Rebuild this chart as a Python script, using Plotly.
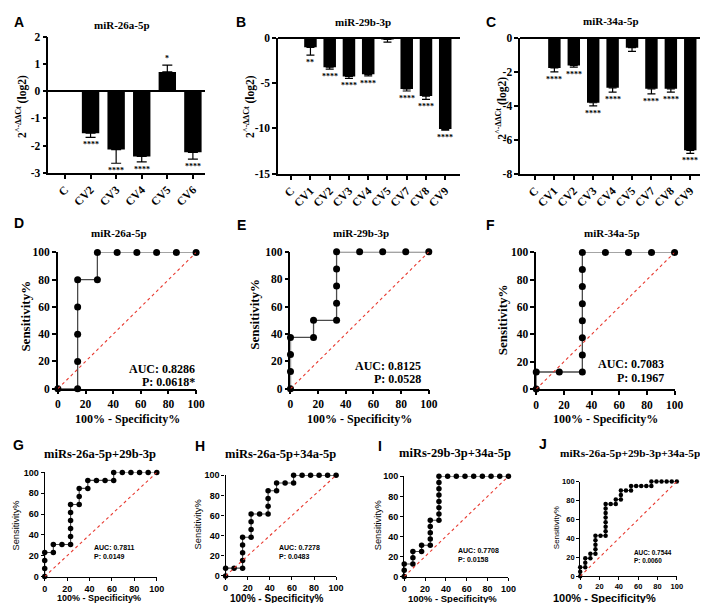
import plotly.graph_objects as go

# ---------------- data ----------------
cats_a = ["C", "CV2", "CV3", "CV4", "CV5", "CV6"]
vals_a = [0, -1.55, -2.15, -2.40, 0.70, -2.25]
errs_a = [0, 0.15, 0.50, 0.20, 0.25, 0.25]
sig_a = ["", "****", "****", "****", "*", "****"]

cats_bc = ["C", "CV1", "CV2", "CV3", "CV4", "CV5", "CV7", "CV8", "CV9"]
vals_b = [0, -1.08, -3.27, -4.28, -4.05, -0.22, -5.67, -6.45, -10.07]
errs_b = [0, 0.85, 0.22, 0.22, 0.18, 0.28, 0.22, 0.35, 0.13]
sig_b = ["", "**", "****", "****", "****", "", "****", "****", "****"]

vals_c = [0, -1.77, -1.63, -3.82, -2.94, -0.58, -3.00, -3.00, -6.62]
errs_c = [0, 0.23, 0.10, 0.18, 0.26, 0.22, 0.30, 0.20, 0.18]
sig_c = ["", "****", "****", "****", "****", "", "****", "****", "****"]

ytick_a = [2, 1, 0, -1, -2, -3]
ytick_b = [0, -5, -10, -15]
ytick_c = [0, -2, -4, -6, -8]
roc_ticks = [0, 20, 40, 60, 80, 100]
diag = [0, 100]

roc_d_x = [0, 14.29, 14.29, 14.29, 14.29, 14.29, 28.57, 28.57, 42.86, 57.14, 71.43, 85.71, 100]
roc_d_y = [0, 0, 20, 40, 60, 80, 80, 100, 100, 100, 100, 100, 100]

roc_e_x = [0, 0, 0, 0, 16.67, 16.67, 33.33, 33.33, 33.33, 33.33, 33.33, 50, 66.67, 83.33, 100]
roc_e_y = [0, 12.5, 25, 37.5, 37.5, 50, 50, 62.5, 75, 87.5, 100, 100, 100, 100, 100]

roc_f_x = [0, 0, 16.67, 33.33, 33.33, 33.33, 33.33, 33.33, 33.33, 33.33, 33.33, 50, 66.67, 83.33, 100]
roc_f_y = [0, 12.5, 12.5, 12.5, 25, 37.5, 50, 62.5, 75, 87.5, 100, 100, 100, 100, 100]

roc_g_x = [0, 0, 0, 0, 7.69, 7.69, 15.38, 23.08, 23.08, 23.08, 23.08, 23.08, 23.08, 30.77, 30.77,
           30.77, 38.46, 38.46, 46.15, 53.85, 61.54, 61.54, 69.23, 76.92, 84.62, 92.31, 100]
roc_g_y = [0, 7.69, 15.38, 23.08, 23.08, 30.77, 30.77, 30.77, 38.46, 46.15, 53.85, 61.54, 69.23, 69.23,
           76.92, 84.62, 84.62, 92.31, 92.31, 92.31, 92.31, 100, 100, 100, 100, 100, 100]

roc_h_x = [0, 0, 7.69, 15.38, 15.38, 15.38, 15.38, 15.38, 23.08, 23.08, 23.08, 23.08, 30.77, 38.46,
           38.46, 38.46, 38.46, 46.15, 46.15, 53.85, 61.54, 61.54, 69.23, 76.92, 84.62, 92.31, 100]
roc_h_y = [0, 7.69, 7.69, 7.69, 15.38, 23.08, 30.77, 38.46, 38.46, 46.15, 53.85, 61.54, 61.54, 61.54,
           69.23, 76.92, 84.62, 84.62, 92.31, 92.31, 92.31, 100, 100, 100, 100, 100, 100]

roc_i_x = [0, 0, 0, 8.33, 8.33, 8.33, 16.67, 16.67, 25, 25, 25, 25, 25, 33.33, 33.33, 33.33, 33.33,
           33.33, 33.33, 33.33, 33.33, 41.67, 50, 58.33, 66.67, 75, 83.33, 91.67, 100]
roc_i_y = [0, 6.25, 12.5, 12.5, 18.75, 25, 25, 31.25, 31.25, 37.5, 43.75, 50, 56.25, 56.25, 62.5,
           68.75, 75, 81.25, 87.5, 93.75, 100, 100, 100, 100, 100, 100, 100, 100, 100]

roc_j_x = [0, 0, 0, 5.26, 5.26, 5.26, 10.53, 10.53, 15.79, 15.79, 15.79, 15.79, 15.79, 21.05, 26.32,
           26.32, 26.32, 26.32, 26.32, 26.32, 26.32, 26.32, 31.58, 36.84, 36.84, 42.11, 42.11, 42.11,
           47.37, 52.63, 52.63, 57.89, 63.16, 68.42, 73.68, 73.68, 78.95, 84.21, 89.47, 94.74, 100]
roc_j_y = [0, 4.76, 9.52, 9.52, 14.29, 19.05, 19.05, 23.81, 23.81, 28.57, 33.33, 38.10, 42.86, 42.86,
           42.86, 47.62, 52.38, 57.14, 61.90, 66.67, 71.43, 76.19, 76.19, 76.19, 80.95, 80.95, 85.71,
           90.48, 90.48, 90.48, 95.24, 95.24, 95.24, 95.24, 95.24, 100, 100, 100, 100, 100, 100]

titles_top = ["miR-26a-5p", "miR-29b-3p", "miR-34a-5p"]
titles_bot = ["miRs-26a-5p+29b-3p", "miRs-26a-5p+34a-5p", "miRs-29b-3p+34a-5p", "miRs-26a-5p+29b-3p+34a-5p"]
auc_def = [["AUC: 0.8286", "P: 0.0618*"], ["AUC: 0.8125", "P: 0.0528"], ["AUC: 0.7083", "P: 0.1967"]]
auc_ghij = [["AUC: 0.7811", "P: 0.0149"], ["AUC: 0.7278", "P: 0.0483"],
            ["AUC: 0.7708", "P: 0.0158"], ["AUC: 0.7544", "P: 0.0060"]]
letters = ["A", "B", "C", "D", "E", "F", "G", "H", "I", "J"]

# ---------------- figure ----------------
W, H = 708, 603
SERIF = "Liberation Serif, Times New Roman, serif"
SANS = "Liberation Sans, Arial, sans-serif"


def px(x):
    return x / W


def py(y):
    return 1 - y / H


fig = go.Figure()
layout = dict(width=W, height=H, margin=dict(l=0, r=0, t=0, b=0),
              paper_bgcolor="white", plot_bgcolor="white", showlegend=False)
annotations = []


def ann(text, x, y, size, family, bold=True, angle=0, xanchor="center", yanchor="middle"):
    annotations.append(dict(text=text, x=px(x), y=py(y), xref="paper", yref="paper", showarrow=False,
                            font=dict(size=size, family=family, color="black", weight=700 if bold else 400),
                            textangle=angle, xanchor=xanchor, yanchor=yanchor, borderpad=0))


def refs(i):
    return ("x" if i == 1 else f"x{i}", "y" if i == 1 else f"y{i}")


def axis_common(lw, tlen, font):
    return dict(showline=True, linecolor="black", linewidth=lw, ticks="outside", ticklen=tlen,
                tickwidth=lw, tickcolor="black", showgrid=False, tickfont=font, fixedrange=True)


def bar_panel(i, cats, vals, errs, sigs, xdom, ydom, xrange, yrange, yticks, bw, capw):
    xr, yr = refs(i)
    plus = [e if v > 0 else 0 for v, e in zip(vals, errs)]
    minus = [e if v <= 0 else 0 for v, e in zip(vals, errs)]
    fig.add_trace(go.Bar(x=cats, y=vals, width=bw, marker=dict(color="black", line=dict(width=0)),
                         error_y=dict(type="data", symmetric=False, array=plus, arrayminus=minus,
                                      color="black", thickness=1.2, width=capw),
                         xaxis=xr, yaxis=yr))
    f = dict(family=SERIF, size=11.5, color="black", weight=700)
    xa = axis_common(1.5, 4, f)
    xa.update(domain=[px(xdom[0]), px(xdom[1])], anchor=yr, type="category", categoryorder="array",
              categoryarray=cats, range=xrange, tickangle=-45, zeroline=False)
    ya = axis_common(1.5, 4, f)
    ya.update(domain=[py(ydom[1]), py(ydom[0])], anchor=xr, range=yrange, tickvals=yticks,
              ticktext=[str(t) for t in yticks], zeroline=True, zerolinecolor="black", zerolinewidth=1.5)
    layout["xaxis" if i == 1 else f"xaxis{i}"] = xa
    layout["yaxis" if i == 1 else f"yaxis{i}"] = ya
    for c, v, e, s in zip(cats, vals, errs, sigs):
        if not s:
            continue
        neg = v <= 0
        annotations.append(dict(text=s, x=c, y=(v - e) if neg else (v + e), xref=xr, yref=yr,
                                showarrow=False, yanchor="top" if neg else "bottom",
                                yshift=-2 if neg else 1, borderpad=0,
                                font=dict(family=SERIF, size=8, color="black", weight=700)))


def roc_panel(i, xs, ys, xdom, ydom, msize, lw, font, line_w, tlen=4):
    xr, yr = refs(i)
    fig.add_trace(go.Scatter(x=xs, y=ys, mode="lines+markers", cliponaxis=False,
                             line=dict(color="#4a4a4a", width=line_w),
                             marker=dict(color="black", size=msize), xaxis=xr, yaxis=yr))
    fig.add_trace(go.Scatter(x=diag, y=diag, mode="lines", cliponaxis=False,
                             line=dict(color="#e8392f", dash="dot", width=1.1), xaxis=xr, yaxis=yr))
    xa = axis_common(lw, tlen, font)
    xa.update(domain=[px(xdom[0]), px(xdom[1])], anchor=yr, range=[0, 100], tickvals=roc_ticks,
              zeroline=False)
    ya = axis_common(lw, tlen, font)
    ya.update(domain=[py(ydom[1]), py(ydom[0])], anchor=xr, range=[0, 100], tickvals=roc_ticks,
              zeroline=False)
    layout["xaxis" if i == 1 else f"xaxis{i}"] = xa
    layout["yaxis" if i == 1 else f"yaxis{i}"] = ya


# ---- top row: bar charts ----
bar_panel(1, cats_a, vals_a, errs_a, sig_a, (38, 197), (23, 162), [-0.65, 5.46], [-3, 2], ytick_a, 0.68, 5)
bar_panel(2, cats_bc, vals_b, errs_b, sig_b, (271.7, 457), (24, 163), [-0.68, 8.78], [-15, 0], ytick_b, 0.65, 4)
bar_panel(3, cats_bc, vals_c, errs_c, sig_c, (518, 705), (24.3, 163), [-0.76, 8.71], [-8, 0], ytick_c, 0.64, 4)

ylab_bar = "2<sup>^-ΔΔCt</sup> (log2)"
ann(ylab_bar, 10, 94, 11.5, SERIF, angle=-90)
ann(ylab_bar, 242, 94, 11.5, SERIF, angle=-90)
ann(ylab_bar, 499, 96, 11.5, SERIF, angle=-90)
ann(titles_top[0], 113, 11, 11, SERIF)
ann(titles_top[1], 358, 8, 11, SERIF)
ann(titles_top[2], 610, 7, 11, SERIF)

# ---- middle row: single-miRNA ROC ----
fserif = dict(family=SERIF, size=11.5, color="black", weight=700)
roc_panel(4, roc_d_x, roc_d_y, (47.7, 188.3), (243.3, 382.3), 7, 1.5, fserif, 1.3)
roc_panel(5, roc_e_x, roc_e_y, (284.3, 425), (242.7, 382.3), 7, 1.5, fserif, 1.3)
roc_panel(6, roc_f_x, roc_f_y, (534.3, 675), (243.3, 382.7), 7, 1.5, fserif, 1.3)

for k, (tx, yt_x, yt_y, xt_x) in enumerate([(110, 15, 308, 118), (356, 248, 306, 355),
                                             (611, 500, 312, 605)]):
    ann(titles_top[k], tx, 223, 11, SERIF)
    ann("Sensitivity%", yt_x, yt_y, 13, SERIF, angle=-90)
    ann("100% - Specificity%", xt_x, 413, 12, SERIF)

for (rx, y1, y2), txt in zip([(188, 362, 375), (418, 359, 372), (665, 357, 371)], auc_def):
    ann(txt[0], rx, y1, 12, SERIF, xanchor="right")
    ann(txt[1], rx, y2, 12, SERIF, xanchor="right")

# ---- bottom row: combined ROC ----
fsans9 = dict(family=SANS, size=9, color="black", weight=700)
fsans7 = dict(family=SANS, size=7.5, color="black", weight=700)
roc_panel(7, roc_g_x, roc_g_y, (34.3, 148.3), (467.7, 574), 5.5, 1.3, fsans9, 1.1, 3)
roc_panel(8, roc_h_x, roc_h_y, (218.3, 330.7), (470.7, 573.3), 5.5, 1.3, fsans9, 1.1, 3)
roc_panel(9, roc_i_x, roc_i_y, (400, 506), (471.7, 574), 5.5, 1.3, fsans9, 1.1, 3)
roc_panel(10, roc_j_x, roc_j_y, (579, 677.3), (477, 573.7), 4.5, 1.1, fsans7, 1.0, 3)

bot_title = [(91, 449, 12.5, "center"), (274, 449, 12.5, "center"), (452, 448, 12.5, "center"),
             (557, 448, 11.3, "left")]
for k, (tx, ty, ts, anc) in enumerate(bot_title):
    ann(titles_bot[k], tx, ty, ts, SERIF, xanchor=anc)

for x, s in zip([90, 270, 449, 604], [9, 10, 9.5, 11]):
    ann("100% - Specificity%", x, 596, s, SANS)
for x, y, s in zip([5, 190, 373, 555], [522, 521, 522, 524], [9.3, 9.3, 9.3, 8]):
    ann("Sensitivity%", x, y, s, SANS, bold=False, angle=-90)

for (lx, y1, y2, s), txt in zip([(83, 544, 554, 7), (272, 544, 554, 7), (454, 547, 557, 7),
                                 (633, 549, 558, 6.4)], auc_ghij):
    ann(txt[0], lx, y1, s, SANS, xanchor="left")
    ann(txt[1], lx, y2, s, SANS, xanchor="left")

# ---- panel letters ----
for L, (lx, ly) in zip(letters, [(8, 8), (234, 8), (488, 8), (8, 213), (234, 215), (488, 215),
                                 (8, 440), (192, 441), (375, 441), (541, 439)]):
    ann(L, lx, ly, 14, SANS)

layout["annotations"] = annotations
fig.update_layout(**layout)
fig.write_html("out.html")
